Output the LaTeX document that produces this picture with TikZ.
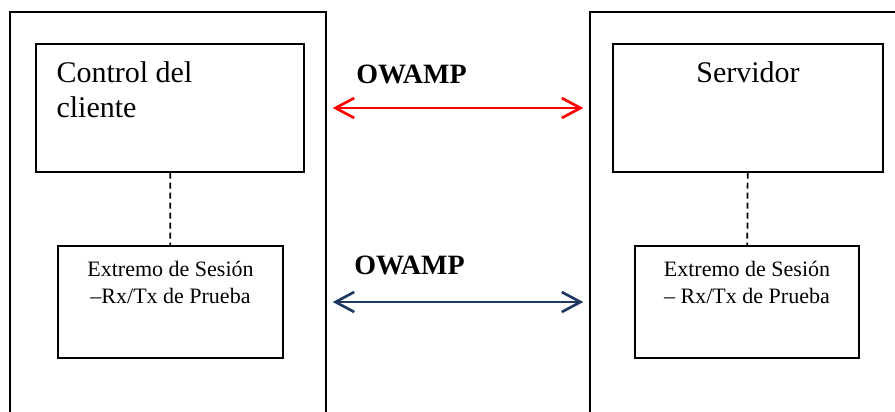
\documentclass[tikz,border=0pt]{standalone}
\usepackage{fontspec}
\setmainfont{Liberation Serif}
\usetikzlibrary{arrows.meta,positioning}
\definecolor{owred}{RGB}{255,0,0}
\definecolor{owblue}{RGB}{31,56,100}

\begin{document}
\begin{tikzpicture}[
        x=0.75pt, y=-0.75pt,
        >={Straight Barb[length=14pt,width=15pt]},
        host/.style={rectangle, draw, line width=1.1pt, inner sep=0pt},
        block/.style={rectangle, draw, line width=1.1pt, inner sep=0pt},
        bigtxt/.style={font=\fontsize{22.5}{26}\selectfont, inner sep=0pt, align=left},
        smalltxt/.style={font=\fontsize{16.5}{20}\selectfont, inner sep=0pt, align=center},
        proto/.style={font=\fontsize{21}{25}\selectfont\bfseries, inner sep=0pt},
        link/.style={<->, line width=2pt, shorten <=4.5pt, shorten >=4.5pt},
        tie/.style={line width=1.3pt, dash pattern=on 4.5pt off 3pt}
    ]
        \useasboundingbox (0,0) rectangle (895,411);
        \clip (0,0) rectangle (895,411);

        % the two hosts (open at the bottom)
        \node[host, minimum width=237pt, minimum height=328.5pt] (cli) at (168,231) {};
        \node[host, minimum width=255pt, minimum height=328.5pt] (srvh) at (760,231) {};

        % inner blocks
        \node[block, minimum width=201pt, minimum height=96pt]   (ctl)  at (170,108) {};
        \node[block, minimum width=168.75pt, minimum height=84pt] (extl) at (170.5,302) {};
        \node[block, minimum width=202.5pt, minimum height=96pt]  (srv)  at (748,108) {};
        \node[block, minimum width=168pt, minimum height=84pt]    (extr) at (747,302) {};

        % texts (base anchor sits on the last line)
        \node[bigtxt, anchor=base west] (ctltxt) at ([xshift=15.75pt,yshift=-55.5pt]ctl.north west) {Control del\\cliente};
        \node[bigtxt, anchor=base] (srvtxt) at ([yshift=-29.25pt]srv.north) {Servidor};
        \node[smalltxt, anchor=base] (extltxt) at ([yshift=-43.5pt]extl.north) {Extremo de Sesión\\–Rx/Tx de Prueba};
        \node[smalltxt, anchor=base] (extrtxt) at ([yshift=-43.5pt]extr.north) {Extremo de Sesión\\– Rx/Tx de Prueba};

        \draw[tie] (ctl) -- (extl);
        \draw[tie] (srv) -- (extr);

        % protocol links
        \node[proto, anchor=base west] (p1) at (356,83) {OWAMP};
        \node[proto, anchor=base west] (p2) at (354,274) {OWAMP};
        \draw[link, owred]  (cli.east |- ctl) -- (srvh.west |- ctl);
        \draw[link, owblue] (cli.east |- extl) -- (srvh.west |- extl);
    \end{tikzpicture}
\end{document}
